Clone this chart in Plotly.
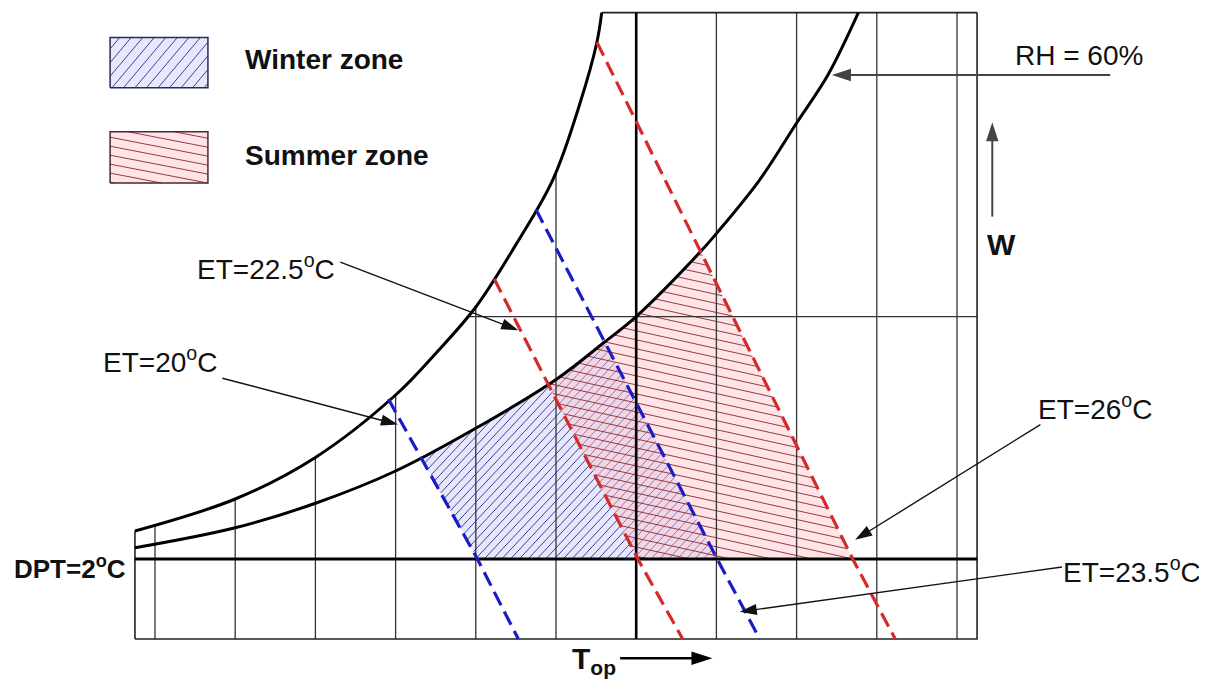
import numpy as np
import plotly.graph_objects as go

# ---------------- data (schematic units: 1 unit = one grid interval) ----------------
grid_x = [0, 1, 2, 3, 4, 5, 6, 7, 8, 9, 10]
grid_x_major = 6
x_left, x_right = -0.25, 10.25
y_bottom, y_dpt, y_mid, y_top = 0.0, 1.0, 4.03, 7.83

# saturation-type (upper) curve
upper_x = [-0.25, 1.00, 2.00, 3.00, 3.50, 4.00, 4.50, 4.96, 5.30, 5.51, 5.57]
upper_y = [1.35, 1.75, 2.27, 3.05, 3.57, 4.15, 4.93, 5.74, 6.70, 7.46, 7.83]

# RH = 60 % curve
rh60_x = [-0.25, 1.00, 2.01, 3.00, 4.01, 5.01, 5.59, 6.01, 6.80, 7.01, 7.54, 8.00, 8.39, 8.77]
rh60_y = [1.14, 1.39, 1.70, 2.10, 2.64, 3.25, 3.70, 4.04, 4.84, 5.08, 5.74, 6.45, 7.05, 7.83]

# effective-temperature lines: start on upper curve, crossing of DPT line, bottom
et_names = ["ET=20", "ET=22.5", "ET=23.5", "ET=26"]
et_x = [[2.91, 4.02, 4.53], [4.23, 6.02, 6.58], [4.75, 7.01, 7.54], [5.51, 8.70, 9.23]]
et_y = [[3.00, 1.00, 0.00], [4.50, 1.00, 0.00], [5.37, 1.00, 0.00], [7.46, 1.00, 0.00]]
et_colors = ["#1c1cc4", "#d62a2a", "#1c1cc4", "#d62a2a"]

# zones: (left ET line index, right ET line index)
winter_zone = (0, 2)
summer_zone = (1, 3)

# ---------------- helpers ----------------
def cross_polyline(p0, p1, cx, cy):
    p0 = np.asarray(p0, float); p1 = np.asarray(p1, float)
    for i in range(len(cx) - 1):
        q0 = np.array([cx[i], cy[i]]); q1 = np.array([cx[i + 1], cy[i + 1]])
        r = p1 - p0; s = q1 - q0
        den = r[0] * s[1] - r[1] * s[0]
        if abs(den) < 1e-12:
            continue
        qp = q0 - p0
        t = (qp[0] * s[1] - qp[1] * s[0]) / den
        u = (qp[0] * r[1] - qp[1] * r[0]) / den
        if 0 <= t <= 1 and 0 <= u <= 1:
            return p0 + t * r, i
    return None, None


def zone_polygon(kl, kr):
    A, ia = cross_polyline((et_x[kl][0], et_y[kl][0]), (et_x[kl][1], et_y[kl][1]), rh60_x, rh60_y)
    B, ib = cross_polyline((et_x[kr][0], et_y[kr][0]), (et_x[kr][1], et_y[kr][1]), rh60_x, rh60_y)
    xs = [A[0]] + rh60_x[ia + 1:ib + 1] + [B[0], et_x[kr][1], et_x[kl][1]]
    ys = [A[1]] + rh60_y[ia + 1:ib + 1] + [B[1], et_y[kr][1], et_y[kl][1]]
    return xs, ys


def hatch(px, py, angle_deg, spacing, phase=0.0):
    P = np.column_stack([px, py]).astype(float)
    th = np.radians(angle_deg)
    d = np.array([np.cos(th), np.sin(th)])
    n = np.array([-np.sin(th), np.cos(th)])
    s = P @ n
    m = len(P)
    xs, ys = [], []
    k0 = int(np.ceil((s.min() - phase) / spacing))
    k1 = int(np.floor((s.max() - phase) / spacing))
    for k in range(k0, k1 + 1):
        c = phase + k * spacing
        pts = []
        for i in range(m):
            a, b = P[i], P[(i + 1) % m]
            sa, sb = s[i], s[(i + 1) % m]
            if (sa - c) * (sb - c) < 0:
                t = (c - sa) / (sb - sa)
                pts.append(a + t * (b - a))
        pts.sort(key=lambda p: p @ d)
        for j in range(0, len(pts) - 1, 2):
            xs += [pts[j][0], pts[j + 1][0], None]
            ys += [pts[j][1], pts[j + 1][1], None]
    return xs, ys


def upper_at(x):
    return float(min(np.interp(x, upper_x, upper_y), y_top))


# ---------------- styles ----------------
WIN_FILL = "rgba(205,205,250,0.45)"
WIN_HATCH = "rgba(45,45,150,0.9)"
SUM_FILL = "rgba(252,195,200,0.45)"
SUM_HATCH = "rgba(140,40,45,0.9)"
FONT = "Liberation Sans, Arial, sans-serif"

fig = go.Figure()

def add_line(xs, ys, color="#333", width=1.3, dash=None, shape="linear"):
    fig.add_trace(go.Scatter(x=xs, y=ys, mode="lines", hoverinfo="skip", showlegend=False,
                             line=dict(color=color, width=width, dash=dash, shape=shape)))

# zones
for (kl, kr), fill, hcol, ang, sp in [(winter_zone, WIN_FILL, WIN_HATCH, 47, 0.08),
                                       (summer_zone, SUM_FILL, SUM_HATCH, -12.5, 0.11)]:
    zx, zy = zone_polygon(kl, kr)
    fig.add_trace(go.Scatter(x=zx, y=zy, fill="toself", fillcolor=fill, mode="lines",
                             line=dict(width=0), hoverinfo="skip", showlegend=False))
    hx, hy = hatch(zx, zy, ang, sp)
    add_line(hx, hy, color=hcol, width=1)

# vertical grid lines, clipped at upper curve
gx_, gy_ = [], []
for g in grid_x:
    if g == grid_x_major:
        continue
    gx_ += [g, g, None]
    gy_ += [y_bottom, upper_at(g), None]
add_line(gx_, gy_, color="#333", width=1.3)

# horizontal mid line from upper curve to right border
x_mid_start = float(np.interp(y_mid, upper_y, upper_x))
add_line([x_mid_start, x_right], [y_mid, y_mid], color="#333", width=1.3)

# frame
add_line([x_left, x_left, None, x_left, x_right, x_right, None, upper_x[-1], x_right],
         [upper_at(x_left), y_bottom, None, y_bottom, y_bottom, y_top, None, y_top, y_top],
         color="#222", width=1.6)

# thick lines: DPT and major vertical
add_line([x_left, x_right], [y_dpt, y_dpt], color="#000", width=3)
add_line([grid_x_major, grid_x_major], [y_bottom, y_top], color="#000", width=2.6)

# curves
add_line(upper_x, upper_y, color="#000", width=3, shape="spline")
add_line(rh60_x, rh60_y, color="#000", width=3, shape="spline")

# ET dashed lines
for xs, ys, c in zip(et_x, et_y, et_colors):
    add_line(xs, ys, color=c, width=3.2, dash="15px,7px")

# legend boxes
legend_boxes = [((-0.56, 0.66, 6.89, 7.52), WIN_FILL, WIN_HATCH, 50, 0.11, "#2a2a55", "<b>Winter zone</b>", 7.24),
                ((-0.56, 0.66, 5.70, 6.34), SUM_FILL, SUM_HATCH, -11, 0.11, "#4a2a2a", "<b>Summer zone</b>", 6.05)]
for (x0, x1, y0, y1), fill, hcol, ang, sp, bcol, txt, ty in legend_boxes:
    bx = [x0, x1, x1, x0]
    by = [y0, y0, y1, y1]
    fig.add_trace(go.Scatter(x=bx, y=by, fill="toself", fillcolor=fill, mode="lines",
                             line=dict(width=0), hoverinfo="skip", showlegend=False))
    hx, hy = hatch(bx, by, ang, sp)
    add_line(hx, hy, color=hcol, width=1)
    add_line(bx + [x0], by + [y0], color=bcol, width=1.5)
    fig.add_annotation(x=1.10, y=ty, text=txt, showarrow=False, xanchor="left", yanchor="middle",
                       font=dict(size=28, color="#111", family=FONT))

# text labels
labels = [
    (10.70, 7.30, "RH = 60%", "left", 28),
    (10.56, 4.93, "<b>W</b>", "center", 30),
    (0.50, 4.65, "ET=22.5<sup>o</sup>C", "left", 28),
    (-0.67, 3.49, "ET=20<sup>o</sup>C", "left", 28),
    (10.99, 2.90, "ET=26<sup>o</sup>C", "left", 28),
    (11.30, 0.86, "ET=23.5<sup>o</sup>C", "left", 28),
    (-0.34, 0.90, "<b>DPT=2<sup>o</sup>C</b>", "right", 26),
    (5.17, -0.27, "<b>T<sub>op</sub></b>", "left", 30),
]
for x, y, t, xa, fs in labels:
    fig.add_annotation(x=x, y=y, text=t, showarrow=False, xanchor=xa, yanchor="middle",
                       font=dict(size=fs, color="#111", family=FONT))

# arrows (tail -> tip), drawn as line + oriented arrow marker at the tip
arrows = [
    ((11.91, 7.05), (8.44, 7.05), "#444", 2.0, 20),
    ((10.44, 5.28), (10.44, 6.46), "#444", 2.0, 20),
    ((2.31, 4.71), (4.53, 3.86), "#111", 1.4, 18),
    ((0.84, 3.26), (3.03, 2.68), "#111", 1.4, 18),
    ((11.04, 2.68), (8.73, 1.24), "#111", 1.4, 18),
    ((11.31, 0.90), (7.29, 0.34), "#111", 1.4, 18),
    ((5.80, -0.24), (6.95, -0.24), "#000", 2.5, 22),
]
for (tx, ty), (hx_, hy_), col, w, sz in arrows:
    fig.add_trace(go.Scatter(x=[tx, hx_], y=[ty, hy_], mode="lines+markers", hoverinfo="skip",
                             showlegend=False, line=dict(color=col, width=w),
                             marker=dict(symbol="arrow", angleref="previous", size=sz, color=col)))

fig.update_layout(
    width=1199, height=671,
    margin=dict(l=0, r=0, t=0, b=0),
    paper_bgcolor="white", plot_bgcolor="white",
    xaxis=dict(range=[(8 - 155) / 80.2, (1207 - 155) / 80.2], visible=False, fixedrange=True),
    yaxis=dict(range=[(639 - 679) / 80, (639 - 8) / 80], visible=False, fixedrange=True),
    showlegend=False,
)

fig.write_html("out.html")
